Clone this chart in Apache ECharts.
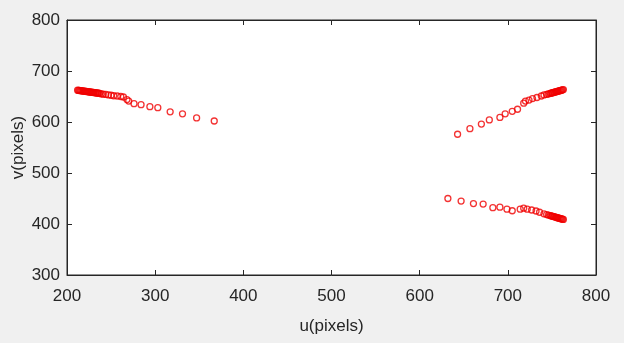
<!DOCTYPE html>
<html><head><meta charset="utf-8">
<script src="https://cdn.jsdelivr.net/npm/echarts@6/dist/echarts.min.js"></script>
<style>html,body{margin:0;padding:0;background:#f0f0f0;}#c{width:624px;height:343px;}</style>
</head><body><div id="c"></div>
<script>
// Left branch
const leftU = [212,213,214,215,216,217,218,219,220,221,222,223,224,225,226,227,228,229,230,231,232,233,234,235,236,237,239,241,244,247,250,253,257,261,264,268,270,276,284,294,303,317,331,347,367];
const leftV = [662.5,662,662,661.5,661.5,661,661,660.5,660.5,660,660,659.5,659.5,659,659,658.5,658.5,658,658,657.5,657.5,657,657,656.5,656.5,656,655,654.5,654,653,652.5,651.5,651,650,649,644,641,636,634,630,628,620,616,608,602];
// Right upper branch
const upperU = [643,657,670,679,691,697,705,711,718,720,724,728,733,738,741,744,746,748,749,750,751,752,753,754,755,756,757,758,759,760,761,762,763];
const upperV = [576,587,596,604,609,616,621,625,637,641,643,646,648,651,653,654,655,656,656.5,657,657.5,658,658.5,659,659.5,660,660.5,661,661.5,662,662.5,663,663.5];
// Right lower branch
const lowerU = [632,647,661,672,683,691,699,705,714,718,722,727,732,736,741,744,746,748,749,750,751,752,753,754,755,756,757,758,759,760,761,762,763];
const lowerV = [450,445,440,439,432,433,429,426,429,431,429,427.5,425.5,423,420,418.5,417.5,416.5,416,415.5,415,414.5,414,413.5,413,412.5,412,411.5,411,410.5,410,409.5,409];
const xTicks = [200,300,400,500,600,700,800];
const yTicks = [300,400,500,600,700,800];

function pairs(u, v){ return u.map((x,i)=>[x, v[i]]); }
const data = pairs(leftU,leftV).concat(pairs(upperU,upperV), pairs(lowerU,lowerV));

const font = 'Liberation Sans, Arial, sans-serif';
const lineC = '#262626';
const chart = echarts.init(document.getElementById('c'), null, {renderer:'canvas'});
const common = {
  nameMoveOverlap:false,
  axisLine:{show:true, lineStyle:{color:lineC, width:1}},
  axisTick:{show:true, inside:true, length:5, lineStyle:{color:lineC}},
  splitLine:{show:false}
};
chart.setOption({
  backgroundColor:'#f0f0f0',
  animation:false,
  grid:{left:67, right:28, top:20, bottom:68, outerBoundsMode:'none', containLabel:false,
    show:true, backgroundColor:'#fff', borderColor:lineC, borderWidth:1},
  xAxis:[
    Object.assign({type:'value', min:xTicks[0], max:xTicks[xTicks.length-1], interval:100, position:'bottom',
      name:'u(pixels)', nameLocation:'middle', nameGap:43,
      nameTextStyle:{fontFamily:font, fontSize:17, color:'#262626'},
      axisLabel:{fontFamily:font, fontSize:17, color:'#262626', margin:13}}, common),
    Object.assign({type:'value', min:xTicks[0], max:xTicks[xTicks.length-1], interval:100, position:'top',
      axisLabel:{show:false}}, common)
  ],
  yAxis:[
    Object.assign({type:'value', min:yTicks[0], max:yTicks[yTicks.length-1], interval:100, position:'left',
      name:'v(pixels)', nameLocation:'middle', nameGap:40,
      nameTextStyle:{fontFamily:font, fontSize:17, color:'#262626'},
      axisLabel:{fontFamily:font, fontSize:17, color:'#262626', margin:7}}, common),
    Object.assign({type:'value', min:yTicks[0], max:yTicks[yTicks.length-1], interval:100, position:'right',
      axisLabel:{show:false}}, common)
  ],
  series:[{
    type:'scatter', xAxisIndex:0, yAxisIndex:0, data:data,
    symbol:'circle', symbolSize:6,
    itemStyle:{color:'rgba(0,0,0,0)', borderColor:'#f00000', borderWidth:1.3}
  }]
});
</script></body></html>
